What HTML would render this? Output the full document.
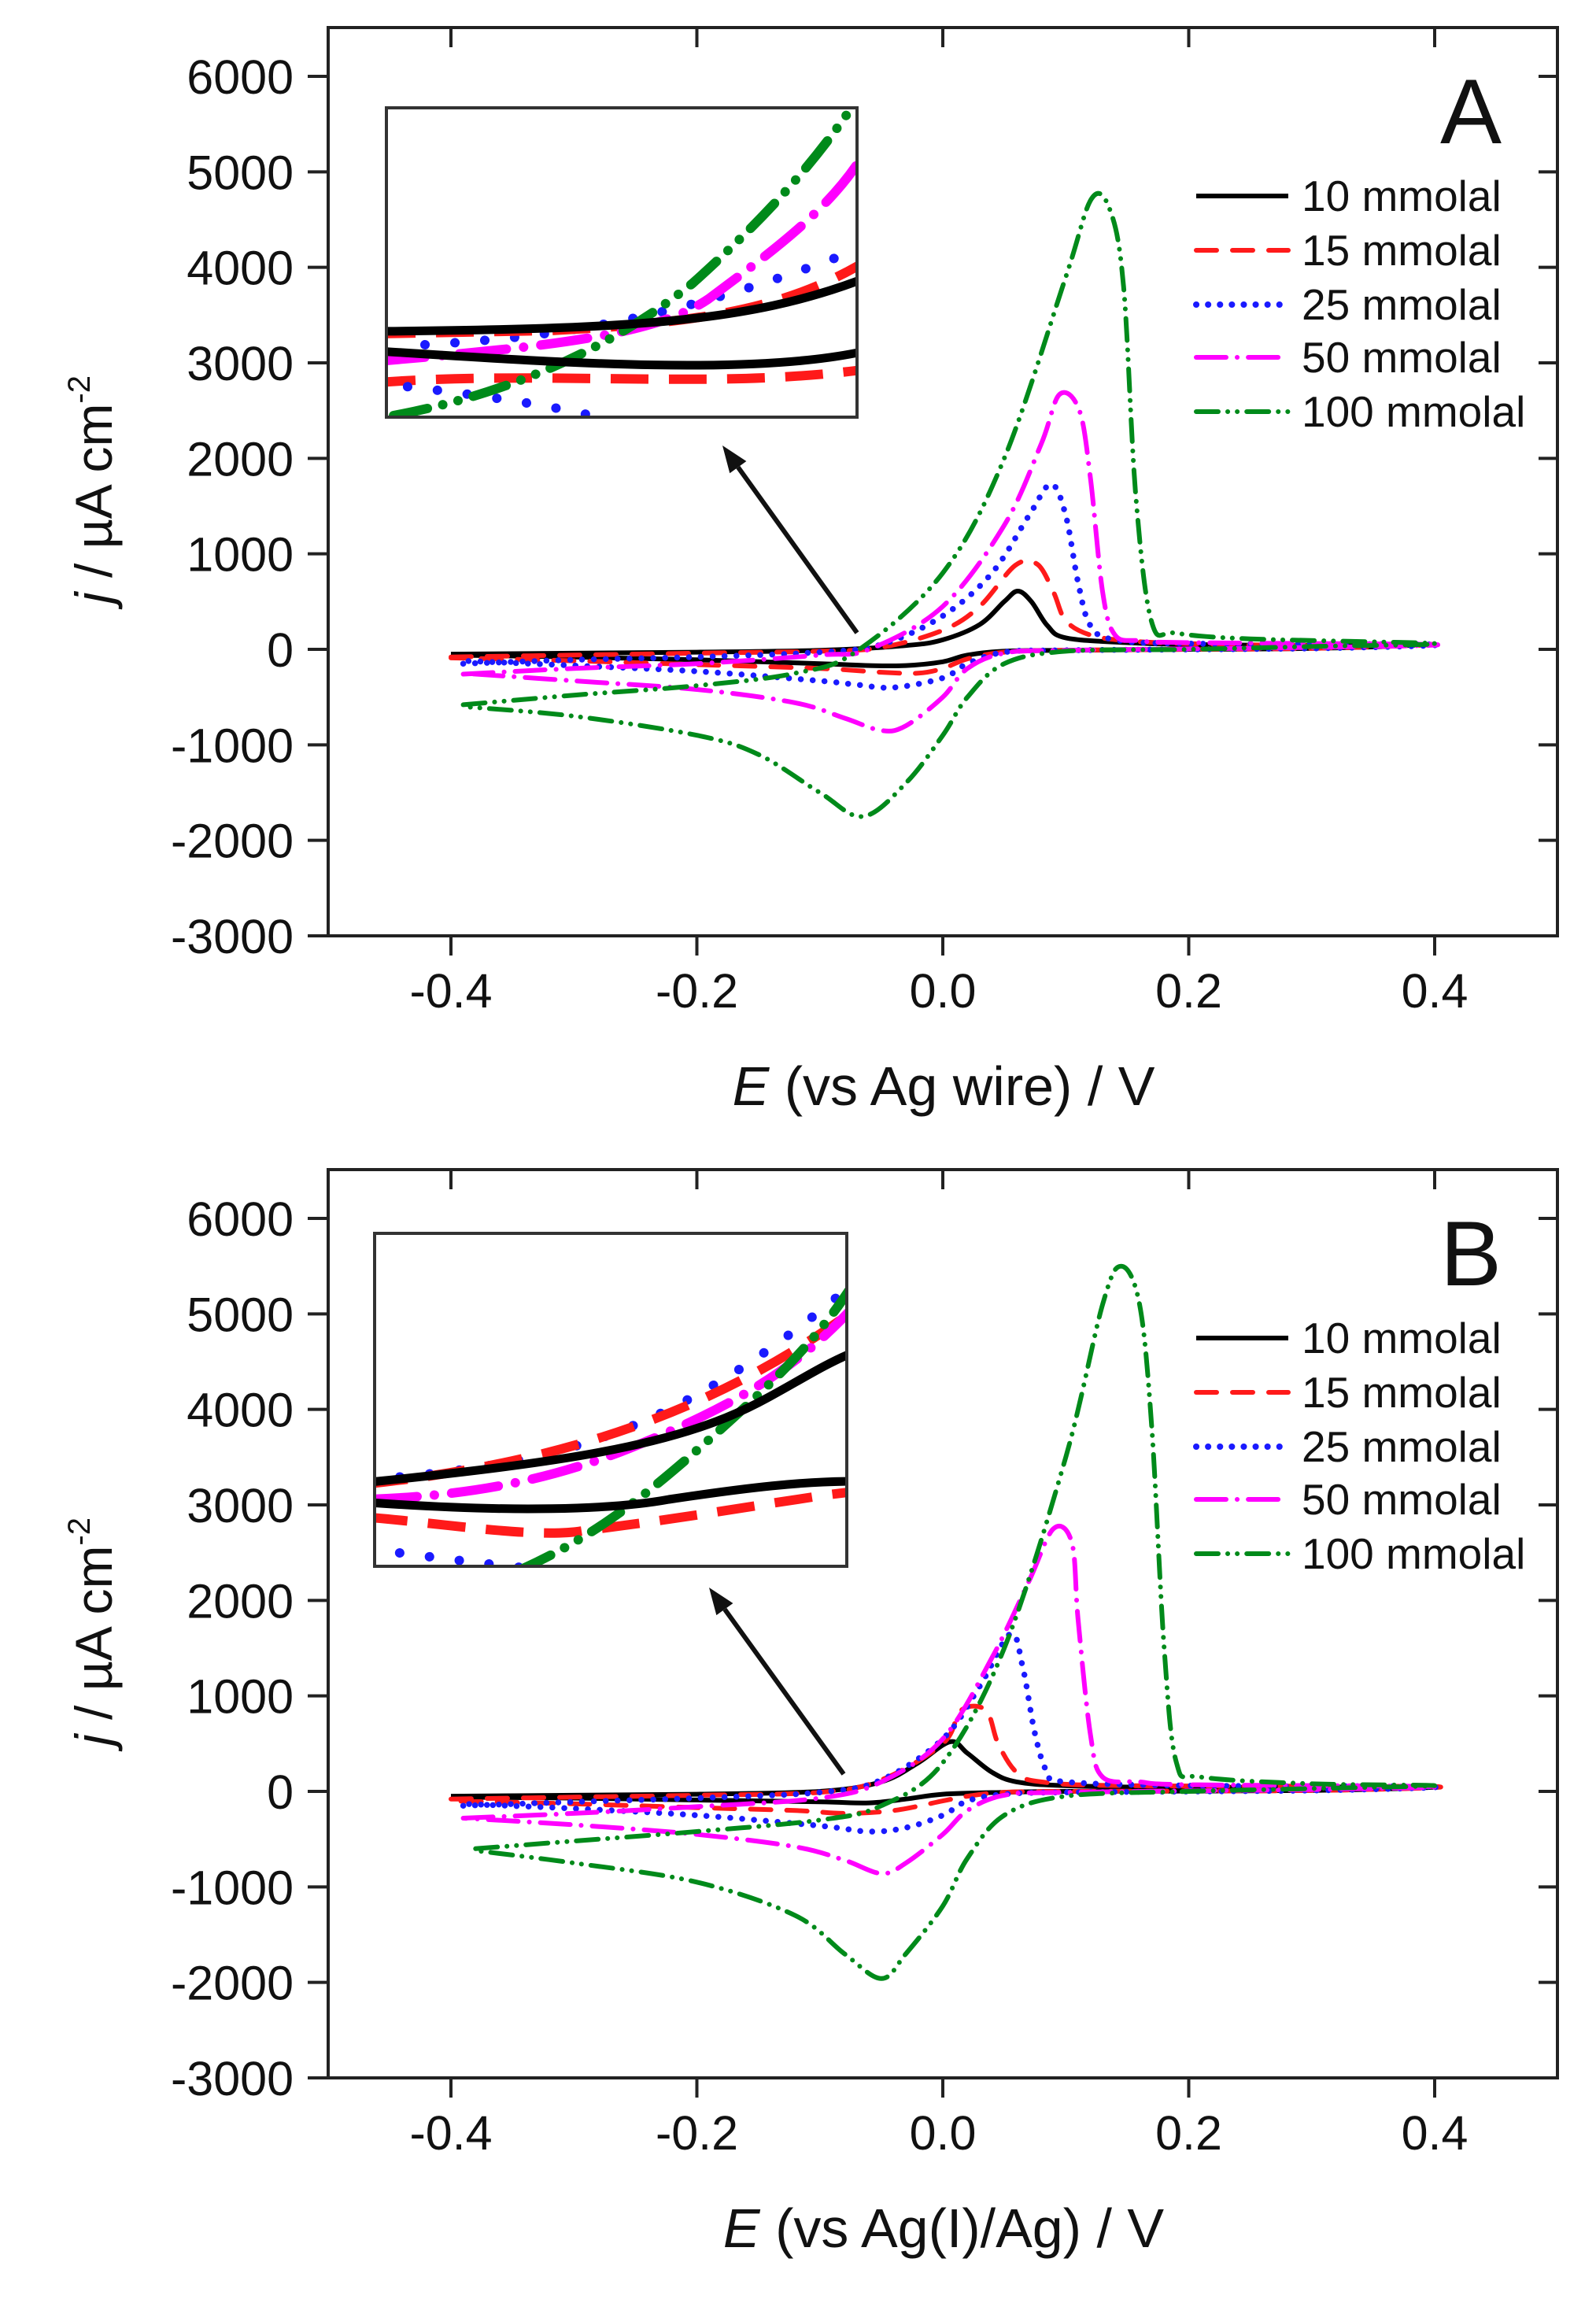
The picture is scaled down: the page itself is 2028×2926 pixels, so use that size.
<!DOCTYPE html>
<html><head><meta charset="utf-8">
<style>
html,body{margin:0;padding:0;background:#fff;}
svg{display:block;}
text{font-family:"Liberation Sans",Arial,sans-serif;fill:#111;}
</style></head>
<body>
<svg id="s" width="2028" height="2926" viewBox="0 0 2028 2926" xmlns="http://www.w3.org/2000/svg">
<rect width="2028" height="2926" fill="#fff"/>
<defs>
<clipPath id="cA"><rect x="493" y="139" width="595" height="389"/></clipPath>
<clipPath id="cB"><rect x="478" y="1569" width="596" height="419"/></clipPath>
</defs>
<g id="root"></g>
</svg>
<script>
const NS="http://www.w3.org/2000/svg";
const root=document.getElementById('root');
function el(tag,attrs,parent,txt){const e=document.createElementNS(NS,tag);for(const k in attrs)e.setAttribute(k,attrs[k]);if(txt!==undefined)e.textContent=txt;(parent||root).appendChild(e);return e;}
const styles=[
 {c:'#000',d:null},
 {c:'#ff1a1a',d:'26 20'},
 {c:'#1a1aff',d:'0.1 15'},
 {c:'#ff00ff',d:'38 14 0.1 14'},
 {c:'#008a1a',d:'28 12 0.1 12 0.1 12'}
];
function catmull(pts){
 let d='M'+pts[0][0].toFixed(1)+','+pts[0][1].toFixed(1);
 for(let i=0;i<pts.length-1;i++){
  const p0=pts[Math.max(0,i-1)],p1=pts[i],p2=pts[i+1],p3=pts[Math.min(pts.length-1,i+2)];
  const t=6;
  const c1=[p1[0]+(p2[0]-p0[0])/t,p1[1]+(p2[1]-p0[1])/t];
  const c2=[p2[0]-(p3[0]-p1[0])/t,p2[1]-(p3[1]-p1[1])/t];
  d+='C'+c1[0].toFixed(1)+','+c1[1].toFixed(1)+' '+c2[0].toFixed(1)+','+c2[1].toFixed(1)+' '+p2[0].toFixed(1)+','+p2[1].toFixed(1);
 }
 return d;
}
function panel(off,letter,title,curves,inset,insetBox,clip,arrow){
 const L=417,R=1979,T=35+off,B=1189+off,Z=825+off;
 const X=e=>1198+e*1562.5, Y=j=>Z-j*0.121333;
 curves.forEach((pts,i)=>{
  const st=styles[i];
  const p=pts.map(q=>[X(q[0]),Y(q[1])]);
  const a={d:catmull(p),fill:'none',stroke:st.c,'stroke-width':6,'stroke-linejoin':'round','stroke-linecap':st.d?'round':'butt'};
  if(st.d)a['stroke-dasharray']=st.d;
  if(i==2)a['stroke-width']=7.5;
  el('path',a);
 });
 el('rect',{x:L,y:T,width:R-L,height:B-T,fill:'none',stroke:'#222','stroke-width':4});
 for(let k=-3;k<=6;k++){
  const y=Y(k*1000);
  el('line',{x1:L-26,y1:y,x2:L,y2:y,stroke:'#222','stroke-width':4});
  el('line',{x1:R-24,y1:y,x2:R,y2:y,stroke:'#222','stroke-width':4});
  el('text',{x:373,y:y+22,'font-size':61,'text-anchor':'end'},null,String(k*1000));
 }
 [-0.4,-0.2,0,0.2,0.4].forEach(e=>{
  const x=X(e);
  el('line',{x1:x,y1:B,x2:x,y2:B+25,stroke:'#222','stroke-width':4});
  el('line',{x1:x,y1:T,x2:x,y2:T+25,stroke:'#222','stroke-width':4});
  el('text',{x:x,y:B+91,'font-size':61,'text-anchor':'middle'},null,(e<0?'-':'')+Math.abs(e).toFixed(1));
 });
 const t=el('text',{x:1199,y:1404+off,'font-size':70,'text-anchor':'middle'});
 el('tspan',{'font-style':'italic'},t,'E');
 el('tspan',{},t,title);
 const yl=el('text',{x:0,y:0,'font-size':66,'text-anchor':'middle',transform:`translate(142,${622+off}) rotate(-90)`});
 el('tspan',{'font-style':'italic'},yl,'j');
 el('tspan',{},yl,' / µA cm');
 el('tspan',{'font-size':40,dy:-28},yl,'-2');
 el('text',{x:1869,y:182+off,'font-size':117,'text-anchor':'middle'},null,letter);
 const rows=[249,318,387,454,523];
 const names=['10 mmolal','15 mmolal','25 mmolal','50 mmolal','100 mmolal'];
 rows.forEach((r,i)=>{
  const st=styles[i];const y=r+off;
  const a={x1:1520,y1:y,x2:1637,y2:y,stroke:st.c,'stroke-width':i==2?8:6,'stroke-linecap':st.d?'round':'butt'};
  if(st.d)a['stroke-dasharray']=st.d;
  el('line',a);
  el('text',{x:1654,y:y+19,'font-size':55},null,names[i]);
 });
 const g=el('g',{'clip-path':`url(#${clip})`});
 el('rect',{x:insetBox[0],y:insetBox[1],width:insetBox[2],height:insetBox[3],fill:'#fff'},g);
 inset.forEach(c=>{
  const st=styles[c.s];
  const a={d:c.d,fill:'none',stroke:st.c,'stroke-width':c.s==0?11:12,'stroke-linecap':c.s>=2?'round':'butt'};
  if(c.s==1)a['stroke-dasharray']='48 26';
  if(c.s==2)a['stroke-dasharray']='0.1 38';
  if(c.s==3)a['stroke-dasharray']='60 22 0.1 22';
  if(c.s==4)a['stroke-dasharray']='44 20 0.1 20 0.1 20';
  el('path',a,g);
 });
 el('rect',{x:insetBox[0],y:insetBox[1],width:insetBox[2],height:insetBox[3],fill:'none',stroke:'#333','stroke-width':4});
 const [x1,y1,x2,y2]=arrow;
 const ang=Math.atan2(y2-y1,x2-x1),hl=34,hw=13;
 const bx=x2-hl*Math.cos(ang),by=y2-hl*Math.sin(ang);
 el('line',{x1:x1,y1:y1,x2:bx,y2:by,stroke:'#111','stroke-width':6});
 el('polygon',{points:`${x2},${y2} ${bx+hw*Math.sin(ang)},${by-hw*Math.cos(ang)} ${bx-hw*Math.sin(ang)},${by+hw*Math.cos(ang)}`,fill:'#111'});
}
const A=[
 [[-0.4,-50],[-0.3,-40],[-0.2,-30],[-0.1,-10],[-0.03,40],[0.0,100],[0.03,260],[0.05,500],[0.061,610],[0.072,500],[0.085,250],[0.1,120],[0.15,70],[0.2,50],[0.3,40],[0.4,50],[0.3,10],[0.2,0],[0.1,-10],[0.05,-20],[0.02,-60],[0,-130],[-0.03,-170],[-0.06,-170],[-0.1,-150],[-0.2,-110],[-0.3,-80],[-0.4,-60]],
 [[-0.4,-80],[-0.3,-60],[-0.2,-40],[-0.1,-20],[-0.05,20],[0,200],[0.03,450],[0.059,880],[0.077,890],[0.09,600],[0.1,300],[0.12,150],[0.15,90],[0.2,60],[0.3,40],[0.4,50],[0.3,10],[0.2,0],[0.1,-10],[0.05,-30],[0.02,-100],[0,-200],[-0.02,-250],[-0.05,-240],[-0.1,-200],[-0.2,-160],[-0.3,-120],[-0.4,-90]],
 [[-0.39,-150],[-0.3,-110],[-0.2,-80],[-0.1,-30],[-0.05,50],[0,350],[0.04,800],[0.07,1400],[0.088,1730],[0.1,1400],[0.11,700],[0.12,250],[0.14,100],[0.2,60],[0.4,50],[0.3,10],[0.1,-10],[0.05,-30],[0.02,-150],[0,-300],[-0.04,-400],[-0.07,-370],[-0.1,-330],[-0.2,-230],[-0.3,-170],[-0.39,-120]],
 [[-0.39,-260],[-0.3,-200],[-0.2,-150],[-0.1,-60],[-0.06,0],[0,450],[0.05,1300],[0.08,2150],[0.095,2670],[0.111,2505],[0.12,1800],[0.13,600],[0.14,150],[0.16,90],[0.2,70],[0.4,50],[0.3,20],[0.1,-10],[0.05,-40],[0.02,-200],[0,-500],[-0.03,-800],[-0.05,-850],[-0.08,-720],[-0.12,-560],[-0.2,-420],[-0.3,-330],[-0.39,-250]],
 [[-0.39,-580],[-0.3,-480],[-0.2,-380],[-0.12,-250],[-0.07,-20],[0,800],[0.05,2000],[0.1,3900],[0.121,4720],[0.136,4600],[0.147,3800],[0.157,1600],[0.17,280],[0.19,170],[0.25,110],[0.4,60],[0.3,30],[0.2,0],[0.1,-20],[0.05,-150],[0.02,-500],[0,-900],[-0.03,-1400],[-0.065,-1750],[-0.1,-1500],[-0.15,-1100],[-0.2,-900],[-0.3,-700],[-0.39,-600]]
];
const Bc=[
 [[-0.4,-50],[-0.3,-40],[-0.2,-30],[-0.1,0],[-0.05,100],[-0.02,300],[0.006,520],[0.02,400],[0.04,200],[0.06,100],[0.1,60],[0.2,40],[0.4,50],[0.3,10],[0.1,0],[0.05,-10],[0,-30],[-0.03,-80],[-0.06,-120],[-0.1,-110],[-0.2,-90],[-0.3,-70],[-0.4,-60]],
 [[-0.4,-80],[-0.3,-60],[-0.2,-40],[-0.1,-10],[-0.05,120],[0,500],[0.015,850],[0.035,850],[0.045,500],[0.06,200],[0.08,100],[0.15,60],[0.4,50],[0.3,10],[0.1,0],[0.05,-10],[0.02,-50],[0,-100],[-0.04,-200],[-0.08,-230],[-0.12,-200],[-0.2,-170],[-0.3,-130],[-0.4,-100]],
 [[-0.39,-150],[-0.3,-110],[-0.2,-70],[-0.1,-10],[-0.05,120],[0,550],[0.03,1100],[0.055,1650],[0.065,1300],[0.075,600],[0.085,200],[0.1,100],[0.2,60],[0.4,50],[0.3,10],[0.1,-10],[0.05,-30],[0.02,-100],[0,-250],[-0.03,-380],[-0.06,-420],[-0.1,-360],[-0.2,-250],[-0.3,-180],[-0.39,-130]],
 [[-0.39,-280],[-0.3,-230],[-0.2,-160],[-0.1,-70],[-0.05,100],[0,550],[0.04,1400],[0.07,2200],[0.09,2750],[0.105,2600],[0.11,1800],[0.12,600],[0.13,150],[0.16,100],[0.2,70],[0.4,50],[0.3,20],[0.1,-10],[0.05,-40],[0.02,-200],[0,-450],[-0.03,-750],[-0.05,-860],[-0.08,-720],[-0.12,-580],[-0.2,-450],[-0.3,-350],[-0.39,-280]],
 [[-0.38,-600],[-0.3,-520],[-0.2,-420],[-0.1,-300],[-0.05,-150],[0,300],[0.05,1500],[0.1,3500],[0.13,5100],[0.145,5500],[0.16,5100],[0.17,3800],[0.18,1500],[0.19,300],[0.21,150],[0.3,80],[0.4,60],[0.3,30],[0.2,0],[0.1,-50],[0.05,-250],[0.02,-700],[0,-1200],[-0.03,-1700],[-0.05,-1960],[-0.08,-1700],[-0.12,-1300],[-0.2,-950],[-0.3,-750],[-0.38,-620]]
];
const insetA=[
 {s:1,d:'M480,486 C700,470 900,495 1095,470'},
 {s:2,d:'M480,487 C600,500 700,515 760,530'},
 {s:2,d:'M540,438 C700,428 850,410 1095,315'},
 {s:1,d:'M480,424 L700,420 C900,410 1000,390 1095,335'},
 {s:3,d:'M480,459 C700,440 832,426 900,380 C980,320 1050,270 1095,200'},
 {s:4,d:'M500,528 C650,500 780,440 880,360 C980,270 1040,200 1090,125'},
 {s:0,d:'M480,421 C800,418 950,410 1095,355'},
 {s:0,d:'M480,446 C700,460 950,478 1095,447'}
];
const insetB=[
 {s:1,d:'M470,1928 C560,1935 680,1955 740,1945 C900,1925 1000,1905 1085,1895'},
 {s:2,d:'M470,1968 C560,1980 640,1990 700,1995'},
 {s:2,d:'M470,1880 C700,1860 850,1830 1085,1630'},
 {s:1,d:'M470,1885 C700,1860 900,1800 1085,1665'},
 {s:3,d:'M470,1905 C600,1900 700,1880 800,1840 C950,1780 1020,1730 1085,1660'},
 {s:4,d:'M660,1995 C760,1950 820,1900 900,1830 C990,1750 1040,1700 1085,1630'},
 {s:0,d:'M470,1883 C700,1860 820,1840 910,1806 C980,1780 1030,1740 1085,1718'},
 {s:0,d:'M470,1909 C650,1922 780,1918 850,1905 C950,1890 1020,1882 1085,1882'}
];
panel(0,'A',' (vs Ag wire) / V',A,insetA,[491,137,598,393],'cA',[1089,804,918,566]);
panel(1451,'B',' (vs Ag(I)/Ag) / V',Bc,insetB,[476,1567,600,423],'cB',[1072,2254,901,2017]);
</script>
</body></html>
